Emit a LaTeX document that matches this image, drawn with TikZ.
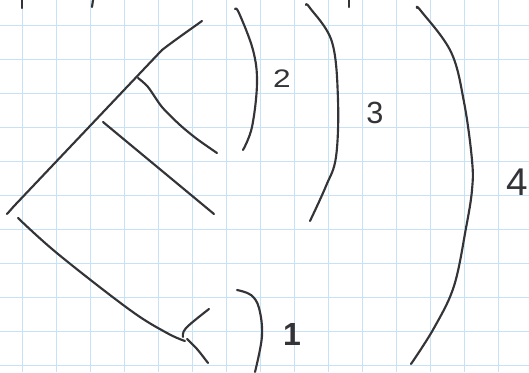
\documentclass[tikz,border=0pt]{standalone}
\usepackage{fontspec}
\setmainfont{Liberation Sans}
\definecolor{gridblue}{RGB}{200,226,245}
\definecolor{inkgray}{RGB}{52,52,56}
\begin{document}
\begin{tikzpicture}[x=0.75pt,y=-0.75pt,
  gridline/.style={draw=gridblue, line width=0.75pt},
  ink/.style={draw=inkgray, line width=1.6pt, line cap=round, line join=round},
  lbl/.style={text=inkgray, inner sep=0pt}]
\useasboundingbox (0,0) rectangle (529,372);
\fill[white] (0,0) rectangle (529,372);
% graph paper
\foreach \x in {22,56,...,498} \draw[gridline] (\x,0) -- (\x,372);
\foreach \y in {25,59,...,365} \draw[gridline] (0,\y) -- (529,\y);
% ticks at top edge
\draw[ink] (22,0) -- (22,8);
\draw[ink] (93,0) -- (92,7);
\draw[ink] (349,0) -- (349,7);
% tree
\coordinate (root) at (7,214);
\coordinate (bend) at (162,50);
\coordinate (tip) at (202,21);
\coordinate (b1s) at (138,78);
\coordinate (b1e) at (217,153);
\coordinate (b2s) at (103,122);
\coordinate (b2e) at (214,214);
\coordinate (lows) at (18,218);
\coordinate (lowe) at (185,341);
\draw[ink] (root) .. controls (10,211) and (12,208) .. (16,204) -- (bend) .. controls (175,40) and (188,31) .. (tip);
\draw[ink] plot[smooth, tension=0.5] coordinates {(b1s) (148,87) (162,107) (180,125) (197,139) (b1e)};
\draw[ink] (b2s) -- (b2e);
\draw[ink] plot[smooth, tension=0.6] coordinates {(lows) (58,254) (130,310) (167,333) (lowe)};
\draw[ink] plot[smooth, tension=0.6] coordinates {(183,337) (186,328) (209,309)};
\draw[ink] plot[smooth, tension=0.6] coordinates {(187,339) (197,349) (208,363)};
% brackets
\draw[ink] plot[smooth, tension=0.6] coordinates {(235,9) (239,13) (253,50) (257,83) (252,127) (243,150)};
\draw[ink] plot[smooth, tension=0.6] coordinates {(306,5) (310,8) (332,42) (338,100) (336,157) (326,186) (310,221)};
\draw[ink] plot[smooth, tension=0.6] coordinates {(417,8) (421,11) (451,52) (464,102) (472,160) (472,190) (466,228) (454,286) (434,328) (411,364)};
\draw[ink] plot[smooth, tension=0.6] coordinates {(237,290) (251,295) (259,308) (262,336) (255,372)};
% labels
\node[lbl, font=\fontsize{19}{19}\selectfont, xscale=1.25] (l2) at (282,79) {2};
\node[lbl, font=\fontsize{23}{23}\selectfont] (l3) at (375,113) {3};
\node[lbl, font=\fontsize{29}{29}\selectfont] (l4) at (517,182) {4};
\node[lbl, font=\fontsize{24}{24}\selectfont\bfseries] (l1) at (292,334) {1};
\end{tikzpicture}
\end{document}
